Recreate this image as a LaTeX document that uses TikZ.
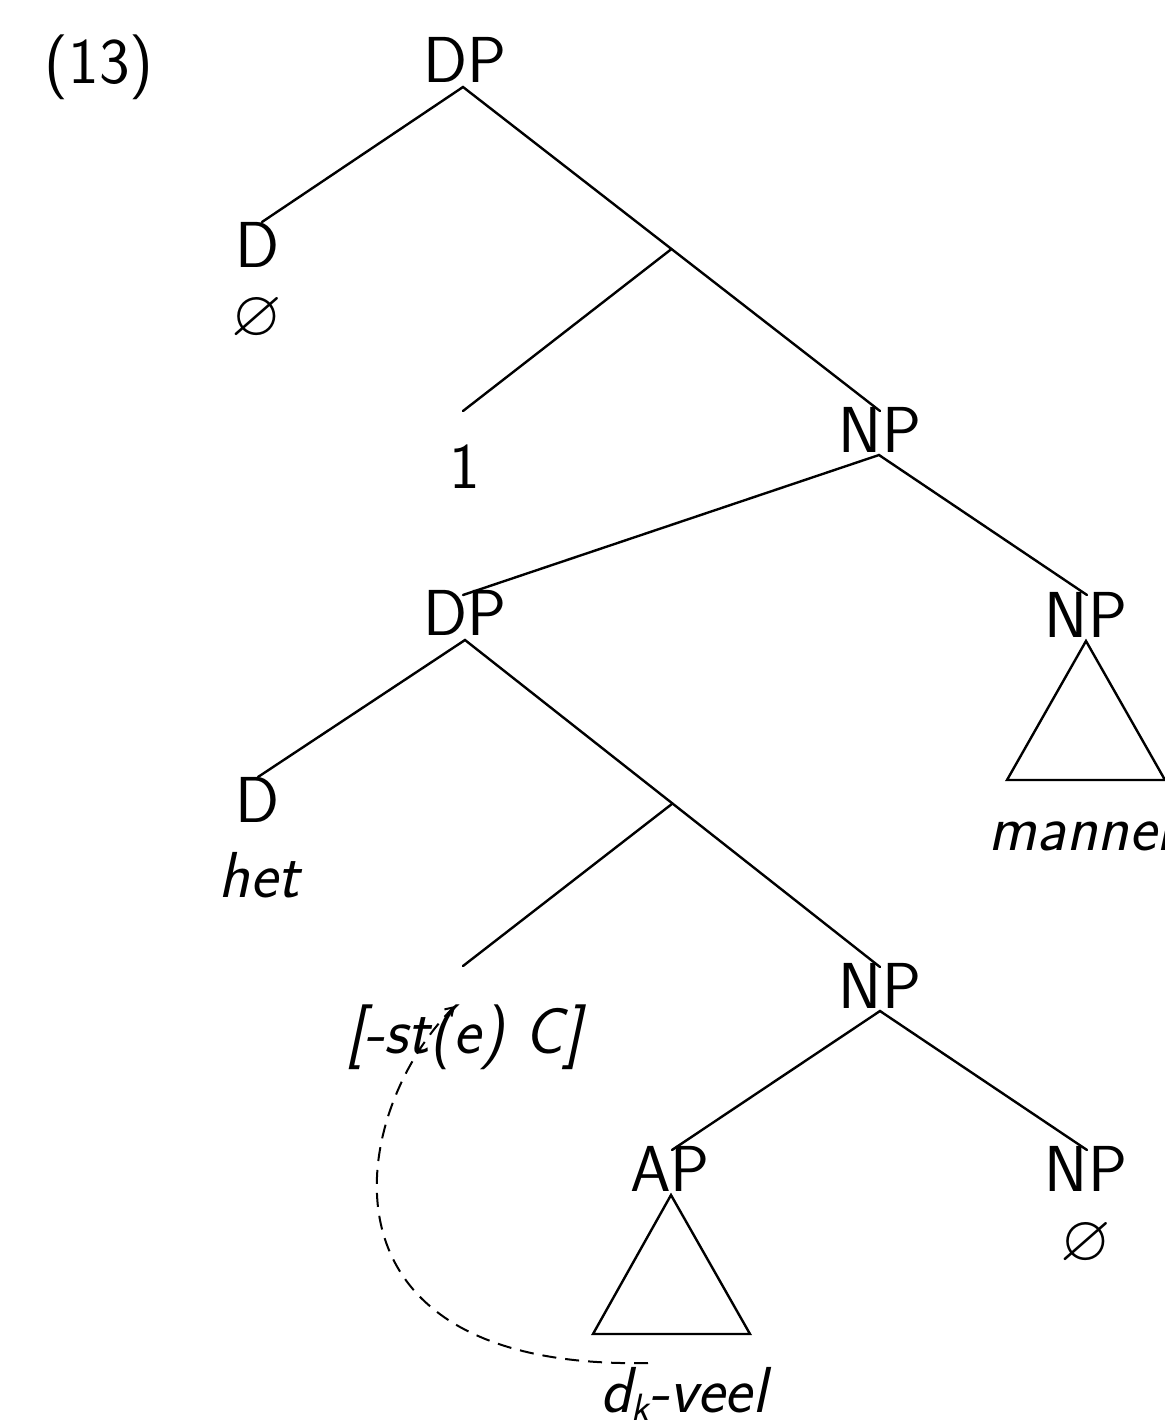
\documentclass[tikz,border=0pt]{standalone}
\usepackage{amssymb}
\usetikzlibrary{arrows.meta,calc}
\begin{document}
\begin{tikzpicture}[x=0.5pt,y=-0.5pt,
  lab/.style={font=\fontsize{32.5}{39}\selectfont\sffamily, inner sep=0pt, anchor=base},
  itlab/.style={lab, font=\fontsize{32.5}{39}\selectfont\sffamily\slshape},
  nulllab/.style={inner sep=0pt, anchor=center, font=\fontsize{32.5}{39}\selectfont},
  branch/.style={line width=1.2pt, line cap=round},
  movearrow/.style={line width=1pt, dash pattern=on 7pt off 4.5pt, -{Straight Barb[length=4pt,width=5pt]}}]
\useasboundingbox (0,0) rectangle (1165,1421);

% labels
\node[lab] (ex) at (99,83) {(13)};
\node[lab] (dp1) at (465,82) {DP};
\node[lab] (d1) at (258,267) {D};
\node[nulllab] (null1) at (257,319) {$\varnothing$};
\node[lab] (one) at (465,488) {1};
\node[lab] (np1) at (880,452) {NP};
\node[lab] (dp2) at (465,635) {DP};
\node[lab] (np2) at (1086,637) {NP};
\node[itlab, anchor=base west] (mannen) at (988,850) {mannen};
\node[lab] (d2) at (258,822) {D};
\node[itlab] (het) at (259,897) {het};
\node[itlab] (ste) at (464,1053) {[-st(e) C]};
\node[lab] (np3) at (880,1008) {NP};
\node[lab] (ap) at (670,1191) {AP};
\node[lab] (np4) at (1086,1191) {NP};
\node[nulllab] (null2) at (1086,1244) {$\varnothing$};
\node[itlab, anchor=base west] (veel) at (600,1412) {d\raisebox{-0.3ex}{\fontsize{19}{19}\selectfont k}-veel};

% attachment points
\coordinate (dp1b) at (463,87);
\coordinate (d1t) at (262,222);
\coordinate (np1t) at (880,411);
\coordinate (m1) at ($(dp1b)!0.5!(np1t)$);
\coordinate (onet) at (463,411);
\coordinate (np1b) at (879,455);
\coordinate (dp2t) at (463,595);
\coordinate (np2t) at (1087,595);
\coordinate (np2b) at (1086,641);
\coordinate (tri1l) at (1007,780);
\coordinate (tri1r) at (1165,780);
\coordinate (dp2b) at (465,640);
\coordinate (d2t) at (258,777);
\coordinate (np3t) at (880,967);
\coordinate (m2) at ($(dp2b)!0.5!(np3t)$);
\coordinate (stet) at (463,966);
\coordinate (np3b) at (880,1011);
\coordinate (apt) at (672,1150);
\coordinate (np4t) at (1087,1150);
\coordinate (apb) at (671,1195);
\coordinate (tri2l) at (593,1334);
\coordinate (tri2r) at (750,1334);
\coordinate (movefrom) at (648,1363);
\coordinate (moveto) at (455,1006);

% branches
\draw[branch] (d1t) -- (dp1b) -- (np1t);
\draw[branch] (m1) -- (onet);
\draw[branch] (dp2t) -- (np1b) -- (np2t);
\draw[branch] (np2b) -- (tri1l) -- (tri1r) -- cycle;
\draw[branch] (d2t) -- (dp2b) -- (np3t);
\draw[branch] (m2) -- (stet);
\draw[branch] (apt) -- (np3b) -- (np4t);
\draw[branch] (apb) -- (tri2l) -- (tri2r) -- cycle;

% movement
\draw[movearrow] (movefrom) .. controls (300,1370) and (350,1110) .. (moveto);
\end{tikzpicture}
\end{document}
